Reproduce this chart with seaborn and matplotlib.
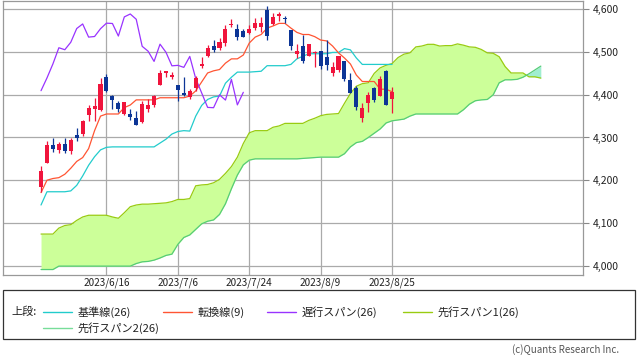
import numpy as np
import pandas as pd
import matplotlib
matplotlib.use("Agg")
import matplotlib.pyplot as plt
from matplotlib.lines import Line2D
from matplotlib.patches import Rectangle
from matplotlib.ticker import StrMethodFormatter
import seaborn as sns

# ==========================================
# データ (日足 2023/6/1 - 2023/8/25)
# ==========================================
dates = ["6/1", "6/2", "6/5", "6/6", "6/7", "6/8", "6/9", "6/12", "6/13", "6/14",
         "6/15", "6/16", "6/20", "6/21", "6/22", "6/23", "6/26", "6/27", "6/28", "6/29",
         "6/30", "7/3", "7/5", "7/6", "7/7", "7/10", "7/11", "7/12", "7/13", "7/14",
         "7/17", "7/18", "7/19", "7/20", "7/21", "7/24", "7/25", "7/26", "7/27", "7/28",
         "7/31", "8/1", "8/2", "8/3", "8/4", "8/7", "8/8", "8/9", "8/10", "8/11",
         "8/14", "8/15", "8/16", "8/17", "8/18", "8/21", "8/22", "8/23", "8/24", "8/25"]

open_ = [4183.0, 4241.0, 4283.0, 4271.3, 4285.5, 4268.7, 4304.9, 4308.3, 4352.6, 4366.3,
         4365.3, 4441.0, 4396.1, 4380.0, 4355.4, 4354.2, 4344.8, 4337.4, 4367.5, 4374.9,
         4422.4, 4450.5, 4442.0, 4422.6, 4404.5, 4394.2, 4415.6, 4467.7, 4491.5, 4514.6,
         4508.9, 4521.8, 4563.9, 4554.4, 4550.2, 4543.4, 4555.2, 4559.0, 4598.3, 4565.8,
         4584.8, 4578.8, 4550.9, 4494.3, 4514.0, 4491.6, 4498.0, 4501.6, 4487.2, 4450.7,
         4458.1, 4478.9, 4433.8, 4416.3, 4344.9, 4380.3, 4415.3, 4396.4, 4455.2, 4389.4]
high = [4232.4, 4290.7, 4299.3, 4288.3, 4299.2, 4298.0, 4322.6, 4340.1, 4375.4, 4391.8,
        4439.2, 4448.5, 4400.2, 4386.2, 4382.3, 4366.6, 4362.1, 4384.4, 4390.4, 4398.4,
        4458.5, 4456.5, 4454.1, 4422.6, 4440.4, 4412.6, 4443.6, 4488.3, 4517.4, 4527.8,
        4532.9, 4562.3, 4578.4, 4564.7, 4555.0, 4563.4, 4580.6, 4582.5, 4607.1, 4590.2,
        4594.2, 4584.6, 4550.9, 4519.5, 4540.3, 4519.8, 4503.3, 4502.4, 4527.4, 4476.2,
        4490.3, 4478.9, 4450.0, 4421.2, 4381.8, 4407.6, 4418.6, 4443.2, 4458.3, 4418.5]
low = [4171.6, 4241.0, 4266.8, 4263.1, 4264.0, 4261.1, 4291.7, 4304.4, 4337.7, 4337.9,
       4362.6, 4407.4, 4367.2, 4360.1, 4351.8, 4341.3, 4328.1, 4335.0, 4360.2, 4372.0,
       4422.4, 4442.3, 4436.6, 4385.1, 4397.4, 4389.9, 4408.5, 4463.2, 4489.4, 4499.6,
       4504.9, 4514.6, 4557.5, 4527.6, 4535.8, 4541.3, 4552.4, 4547.6, 4528.6, 4564.0,
       4573.1, 4567.5, 4505.8, 4485.5, 4474.6, 4491.2, 4464.4, 4461.3, 4457.9, 4444.0,
       4453.4, 4432.2, 4403.6, 4364.8, 4335.3, 4360.3, 4382.8, 4396.4, 4375.6, 4356.3]
close = [4221.0, 4282.4, 4273.8, 4283.9, 4267.5, 4293.9, 4298.9, 4338.9, 4369.0, 4372.6,
         4425.8, 4409.6, 4388.7, 4365.7, 4381.9, 4348.3, 4328.8, 4378.4, 4376.9, 4396.4,
         4450.4, 4455.6, 4446.8, 4411.6, 4399.0, 4409.5, 4439.3, 4472.2, 4510.0, 4505.4,
         4522.8, 4555.0, 4565.7, 4534.9, 4536.3, 4554.6, 4567.5, 4566.8, 4537.4, 4582.2,
         4589.0, 4576.7, 4513.4, 4501.9, 4478.0, 4518.4, 4499.4, 4467.7, 4468.8, 4464.1,
         4489.7, 4437.9, 4404.3, 4370.4, 4369.7, 4399.8, 4387.6, 4436.0, 4376.3, 4405.7]

# 転換線(9)
tenkan = [4171, 4200, 4204, 4206, 4214, 4228, 4244, 4253, 4274, 4316,
          4350, 4355, 4355, 4355, 4370, 4376, 4388, 4388, 4388, 4388,
          4393, 4393, 4393, 4393, 4393, 4397, 4409, 4430, 4451, 4456,
          4459, 4474, 4484, 4484, 4493, 4521, 4535, 4541, 4556, 4561,
          4567, 4567, 4556, 4546, 4541, 4541, 4536, 4528, 4526, 4514,
          4498, 4486, 4472, 4446, 4431, 4431, 4431, 4413, 4413, 4407]
# 基準線(26)
kijun = [4142, 4173, 4173, 4173, 4173, 4175, 4188, 4210, 4235, 4255,
         4271, 4277, 4278, 4278, 4278, 4278, 4278, 4278, 4278, 4278,
         4287, 4296, 4308, 4314, 4316, 4315, 4350, 4375, 4389, 4395,
         4397, 4427, 4441, 4453, 4453, 4453, 4454, 4455, 4468, 4468,
         4468, 4468, 4471, 4484, 4490, 4496, 4496, 4496, 4496, 4499,
         4499, 4508, 4505, 4486, 4471, 4471, 4471, 4471, 4471, 4471]
# 遅行スパン(26): 終値を25本前にずらす
chikou = close[25:]
# 先行スパン1(26) / 先行スパン2(26): 85本 (25本先まで)
span1 = [4074, 4074, 4074, 4088, 4094, 4096, 4106, 4114, 4118, 4118,
         4118, 4118, 4114, 4111, 4124, 4138, 4142, 4144, 4144, 4145,
         4146, 4147, 4150, 4155, 4155, 4157, 4187, 4189, 4190, 4194,
         4202, 4216, 4232, 4254, 4286, 4311, 4316, 4316, 4316, 4324,
         4327, 4333, 4333, 4333, 4333, 4340, 4345, 4351, 4354, 4355,
         4356, 4380, 4403, 4420, 4426, 4428, 4450, 4463, 4469, 4473,
         4487, 4495, 4498, 4512, 4514, 4518, 4518, 4514, 4515, 4515,
         4519, 4516, 4512, 4511, 4506, 4498, 4497, 4489, 4466, 4451,
         4451, 4451, 4442, 4442, 4439]
span2 = [3991, 3991, 3991, 3999, 3999, 3999, 3999, 3999, 3999, 3999,
         3999, 3999, 3999, 3999, 3999, 3999, 4005, 4009, 4010, 4013,
         4018, 4024, 4027, 4050, 4066, 4072, 4085, 4098, 4104, 4107,
         4120, 4145, 4180, 4212, 4236, 4247, 4250, 4250, 4250, 4250,
         4250, 4250, 4250, 4250, 4251, 4252, 4253, 4254, 4254, 4254,
         4254, 4262, 4278, 4288, 4291, 4300, 4310, 4320, 4334, 4339,
         4341, 4343, 4350, 4355, 4355, 4355, 4355, 4355, 4355, 4355,
         4355, 4365, 4378, 4386, 4388, 4389, 4400, 4428, 4435, 4435,
         4436, 4441, 4449, 4458, 4467]

y_ticks = [4000, 4100, 4200, 4300, 4400, 4500, 4600]
x_tick_pos = [11, 23, 35, 47, 59]

C_KIJUN = '#22cccc'
C_TENKAN = '#ff5533'
C_CHIKOU = '#9933ff'
C_SPAN1 = '#99cc11'
C_SPAN2 = '#55cc77'
C_UP = '#f0143c'
C_DOWN = '#0c3596'

# ==========================================
# 描画
# ==========================================
sns.set_style("white")
plt.rcParams['font.family'] = ['Noto Sans CJK JP', 'DejaVu Sans']

W, H = 638, 355
fig = plt.figure(figsize=(W / 100, H / 100), dpi=100)
ax = fig.add_axes([3 / W, 1 - 275 / H, 580 / W, 274 / H])

df = pd.DataFrame({'open': open_, 'high': high, 'low': low, 'close': close,
                   'tenkan': tenkan, 'kijun': kijun})
df['x'] = np.arange(len(df))
cloud = pd.DataFrame({'x': np.arange(len(span1)), 'span1': span1, 'span2': span2})
lag = pd.DataFrame({'x': np.arange(len(chikou)), 'chikou': chikou})

# 雲
ax.fill_between(cloud['x'], cloud['span1'], cloud['span2'], where=cloud['span1'] >= cloud['span2'],
                interpolate=True, color='#ccff99', lw=0, zorder=1)
ax.fill_between(cloud['x'], cloud['span1'], cloud['span2'], where=cloud['span1'] < cloud['span2'],
                interpolate=True, color='#a0eed0', lw=0, zorder=1)
sns.lineplot(data=cloud, x='x', y='span1', ax=ax, color=C_SPAN1, lw=0.9, zorder=2)
sns.lineplot(data=cloud, x='x', y='span2', ax=ax, color=C_SPAN2, lw=0.9, zorder=2)

# 各線
sns.lineplot(data=df, x='x', y='kijun', ax=ax, color=C_KIJUN, lw=0.9, zorder=3)
sns.lineplot(data=df, x='x', y='tenkan', ax=ax, color=C_TENKAN, lw=0.9, zorder=3)
sns.lineplot(data=lag, x='x', y='chikou', ax=ax, color=C_CHIKOU, lw=0.9, zorder=3)

# ローソク足
up = df['close'] >= df['open']
colors = np.where(up, C_UP, C_DOWN)
ax.vlines(df['x'], df['low'], df['high'], colors=colors, lw=0.9, zorder=4)
body_low = np.minimum(df['open'], df['close'])
body_h = np.maximum(np.abs(df['close'] - df['open']), 1.5)
ax.bar(df['x'], body_h, bottom=body_low, width=0.68, color=colors, lw=0, zorder=5)

# 軸
ax.set_xlim(-6.39, 91.09)
ax.set_ylim(3978.2, 4619.4)
ax.set_xlabel('')
ax.set_ylabel('')
ax.set_yticks(y_ticks)
ax.yaxis.set_major_formatter(StrMethodFormatter('{x:,.0f}'))
ax.yaxis.tick_right()
ax.tick_params(axis='y', length=4, width=0.8, color='#888888', labelsize=7.5,
               labelcolor='#222222', pad=3)
ax.set_xticks(x_tick_pos)
ax.set_xticklabels(['2023/' + dates[i] for i in x_tick_pos])
ax.tick_params(axis='x', length=0, labelsize=7.2, labelcolor='#222222', pad=2)
ax.grid(True, color='#aaaaaa', lw=0.9)
ax.set_axisbelow(True)
for s in ax.spines.values():
    s.set_color('#999999')
    s.set_linewidth(0.9)

# 凡例 (手書き)
def fx(px):
    return px / W

def fy(py):
    return 1 - py / H

fig.add_artist(Rectangle((fx(3), fy(339)), fx(632) - fx(0), fy(289.5) - fy(339),
                         transform=fig.transFigure, fill=False, ec='#333333', lw=0.9))
fig.text(fx(11), fy(312), '上段:', fontsize=8, va='center', ha='left', color='#222222')
items = [(43, 312, C_KIJUN, '基準線(26)'),
         (163, 312, C_TENKAN, '転換線(9)'),
         (267, 312, C_CHIKOU, '遅行スパン(26)'),
         (403, 312, C_SPAN1, '先行スパン1(26)'),
         (43, 328, '#77dd99', '先行スパン2(26)')]
for x0, y0, c, lbl in items:
    fig.add_artist(Line2D([fx(x0), fx(x0 + 29)], [fy(y0), fy(y0)], color=c, lw=1.0,
                          transform=fig.transFigure))
    fig.text(fx(x0 + 35), fy(y0), lbl, fontsize=8, va='center', ha='left', color='#222222')

fig.text(fx(619), fy(350), '(c)Quants Research Inc.', fontsize=7, ha='right', va='center',
         color='#555555')

fig.savefig('out.png', dpi=100)
